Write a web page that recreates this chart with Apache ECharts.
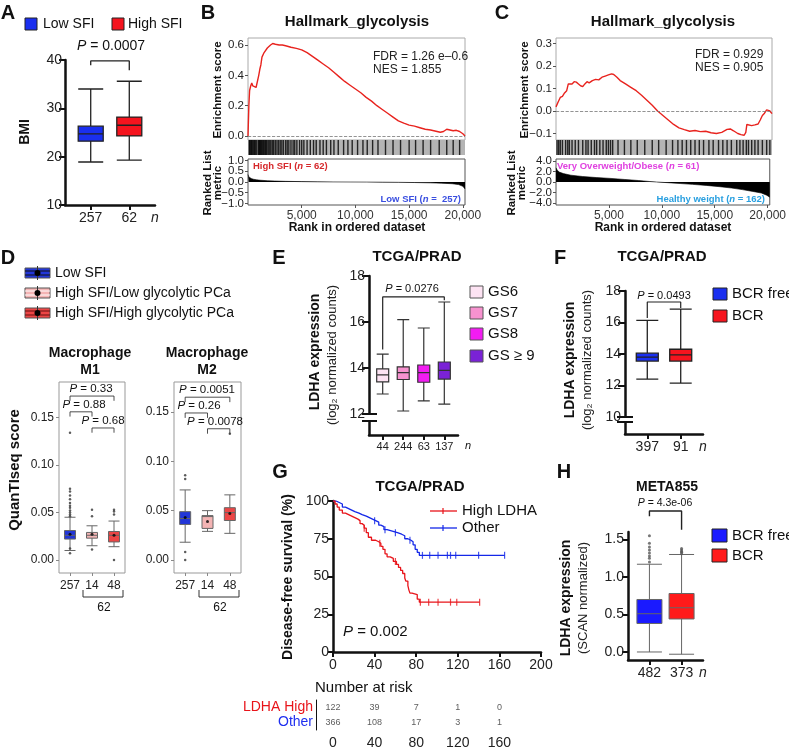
<!DOCTYPE html>
<html>
<head>
<meta charset="utf-8">
<title>Figure</title>
<script src="https://cdn.jsdelivr.net/npm/echarts@6.0.0/dist/echarts.min.js"></script>
<style>
  html, body { margin: 0; padding: 0; background: #fff; }
  #fig { width: 789px; height: 755px; }
</style>
</head>
<body>
<div id="fig"></div>
<script>
const FONT = '"Liberation Sans", Arial, Helvetica, sans-serif';

// ---------- A: BMI ----------
const aGroups = ['257', '62'];
const aBoxes = [              // min, Q1, median, Q3, max
  [18.9, 23.2, 24.7, 26.3, 34.0],
  [19.3, 24.3, 26.5, 28.2, 35.6]
];
const aTicks = [10, 20, 30, 40];
const aBracket = [38.9, 39.8, 37.9]; // left end, bar, right end

// ---------- B: GSEA high vs low SFI ----------
const bEnrichment = [
  [0, 0], [80, 0.2], [150, 0.3], [250, 0.33], [350, 0.35], [450, 0.33], [600, 0.34], [750, 0.32],
  [900, 0.33], [1000, 0.4], [1100, 0.44], [1200, 0.47], [1300, 0.52], [1400, 0.53], [1500, 0.55],
  [1650, 0.56], [1800, 0.58], [1950, 0.59], [2100, 0.6], [2200, 0.605], [2300, 0.61], [2400, 0.615],
  [2550, 0.605], [2700, 0.61], [2900, 0.6], [3200, 0.6], [3500, 0.595], [4000, 0.585], [4500, 0.578],
  [5000, 0.568], [5500, 0.55], [6000, 0.525], [6500, 0.5], [7000, 0.475], [7500, 0.45], [8000, 0.42],
  [8500, 0.39], [9000, 0.36], [9500, 0.335], [10000, 0.31], [10500, 0.285], [11000, 0.255],
  [11500, 0.23], [12000, 0.2], [12500, 0.175], [13000, 0.15], [13500, 0.125], [14000, 0.1],
  [14500, 0.085], [15000, 0.072], [15500, 0.065], [16000, 0.055], [16500, 0.045], [17000, 0.04],
  [17300, 0.035], [17600, 0.03], [17900, 0.025], [18200, 0.03], [18500, 0.045], [18800, 0.04],
  [19100, 0.035], [19400, 0.038], [19700, 0.03], [20000, 0.015], [20200, 0]
];
const bRanked = [
  [0, 0.35], [60, 0.25], [150, 0.2], [300, 0.16], [500, 0.13], [800, 0.1], [1200, 0.08], [1800, 0.06],
  [2500, 0.045], [3500, 0.03], [5000, 0.018], [6500, 0.008], [8000, 0.003], [9500, 0], [11000, -0.003],
  [12500, -0.008], [14000, -0.015], [15500, -0.025], [17000, -0.04], [18000, -0.055], [19000, -0.08],
  [19600, -0.12], [20000, -0.2], [20200, -0.32]
];
const bHits = [
  120, 180, 260, 330, 400, 520, 600, 680, 800, 950, 1020, 1080, 1150, 1230, 1300, 1380, 1460, 1560,
  1650, 1720, 1850, 1950, 2050, 2150, 2300, 2400, 2550, 2700, 2850, 3000, 3150, 3300, 3500, 3650,
  3800, 4000, 4200, 4350, 4550, 4800, 5000, 5200, 5500, 5800, 6100, 6350, 6700, 7000, 7300, 7700,
  8000, 8400, 8900, 9300, 9700, 10200, 10700, 11100, 11600, 12100, 12800, 13500, 14200, 15000,
  15600, 16300, 17000, 17800, 18500, 19100, 19700
];
const bEsTicks = [0, 0.2, 0.4, 0.6];
const bRankTicks = [-1, 0, 1];          // labelled on the main axis
const bRankHalfTicks = [-0.5, 0.5];     // labelled on a companion axis

// ---------- C: GSEA obese vs healthy weight ----------
const cEnrichment = [
  [0, 0.018], [200, 0.04], [400, 0.06], [600, 0.065], [800, 0.08], [1000, 0.09], [1150, 0.12],
  [1300, 0.125], [1500, 0.12], [1700, 0.13], [1900, 0.128], [2100, 0.12], [2300, 0.112], [2500, 0.108],
  [2700, 0.12], [2900, 0.13], [3100, 0.125], [3400, 0.135], [3700, 0.14], [4000, 0.138], [4300, 0.15],
  [4600, 0.155], [4900, 0.16], [5200, 0.165], [5400, 0.162], [5700, 0.15], [6000, 0.135], [6500, 0.12],
  [7000, 0.105], [7500, 0.09], [8000, 0.07], [8500, 0.048], [9000, 0.025], [9500, 0], [10000, -0.02],
  [10500, -0.04], [11000, -0.06], [11500, -0.075], [12000, -0.083], [12500, -0.09], [13000, -0.087],
  [13500, -0.092], [14000, -0.09], [14500, -0.097], [15000, -0.1], [15500, -0.095], [16000, -0.082],
  [16300, -0.08], [16600, -0.088], [17000, -0.1], [17300, -0.105], [17600, -0.108], [17750, -0.095],
  [17850, -0.06], [18000, -0.055], [18300, -0.065], [18600, -0.062], [18900, -0.058], [19100, -0.04],
  [19300, -0.02], [19500, -0.01], [19700, 0.005], [19850, 0.01], [20000, 0], [20200, -0.012]
];
const cRanked = [
  [0, 2.7], [100, 2.3], [300, 1.9], [700, 1.6], [1400, 1.3], [2500, 1.05], [3800, 0.85], [5200, 0.68],
  [6500, 0.48], [7800, 0.28], [8800, 0.1], [9500, 0], [10500, -0.12], [11800, -0.3], [12900, -0.45],
  [14200, -0.65], [15500, -0.9], [16600, -1.15], [17600, -1.45], [18600, -1.8], [19400, -2.1],
  [19900, -2.5], [20200, -2.9]
];
const cHits = [
  100, 250, 400, 600, 900, 1100, 1250, 1500, 1800, 2100, 2500, 2800, 3000, 3300, 3600, 3800, 4100,
  4400, 4700, 4900, 5100, 5300, 5800, 6400, 7000, 7600, 8300, 9000, 9600, 10300, 10900, 11400, 11800,
  12200, 12600, 13000, 13400, 13800, 14300, 14700, 15200, 15600, 16000, 16400, 16900, 17200, 17500,
  17800, 18000, 18300, 18600, 18900, 19300, 19700, 20000
];
const cEsTicks = [-0.1, 0, 0.1, 0.2, 0.3];
const cRankTicks = [-4, 0, 4];
const cRankHalfTicks = [-2, 2];
const rankXTicks = [5000, 10000, 15000, 20000];

// ---------- D: QuanTIseq macrophages ----------
const dGroups = ['257', '14', '48'];
const dTicks = [0, 0.05, 0.1, 0.15];
const m1Boxes = [
  [0.010, 0.022, 0.026, 0.031, 0.045],
  [0.015, 0.023, 0.026, 0.029, 0.036],
  [0.014, 0.019, 0.026, 0.030, 0.041]
];
const m1Means = [0.027, 0.027, 0.026];
const m1Outliers = [
  [0, 0.134], [0, 0.075], [0, 0.072], [0, 0.068], [0, 0.064], [0, 0.060], [0, 0.057], [0, 0.055],
  [0, 0.052], [0, 0.050], [0, 0.048], [0, 0.046], [0, 0.012], [0, 0.007],
  [1, 0.053], [1, 0.046], [1, 0.011], [2, 0.053], [2, 0.051], [2, 0.048], [2, 0.0]
];
const m1Brackets = [[0, 2, 0.1726], [0, 1, 0.156], [1, 2, 0.139]];
const m2Boxes = [
  [0.018, 0.036, 0.042, 0.049, 0.071],
  [0.029, 0.032, 0.044, 0.045, 0.050],
  [0.027, 0.040, 0.048, 0.053, 0.066]
];
const m2Means = [0.043, 0.039, 0.047];
const m2Outliers = [[0, 0.086], [0, 0.082], [0, 0.008], [0, 0.0], [2, 0.128]];
const m2Brackets = [[0, 2, 0.165], [0, 1, 0.149], [1, 2, 0.133]];

// ---------- E: LDHA by Gleason score ----------
const eGroups = ['44', '244', '63', '137'];
const eBoxes = [
  [12.87, 13.4, 13.7, 13.96, 14.6],
  [12.13, 13.5, 13.8, 14.05, 16.1],
  [12.57, 13.38, 13.8, 14.13, 15.74],
  [12.43, 13.52, 13.9, 14.26, 16.87]
];
const eTicks = [12, 14, 16, 18];
const eBracket = [14.8, 17.09, 16.95];

// ---------- F: LDHA by BCR (TCGA) ----------
const fGroups = ['397', '91'];
const fBoxes = [
  [12.4, 13.55, 13.8, 14.05, 16.13],
  [12.15, 13.55, 13.95, 14.3, 16.85]
];
const fTicks = [10, 12, 14, 16, 18];
const fBracket = [16.29, 17.3, 16.92];

// ---------- G: Kaplan-Meier ----------
const kmHigh = [
  [0, 100], [2, 98], [4, 96], [6, 94], [9, 92], [12, 91], [15, 90], [18, 89], [21, 88], [24, 87],
  [26, 85], [28, 84], [30, 82], [32, 79], [34, 76], [37, 74], [41, 73], [44, 72], [46, 70], [48, 68],
  [50, 65], [52, 63], [55, 62], [58, 60], [61, 58], [63, 56], [65, 54], [67, 52], [69, 49], [70, 47],
  [72, 44], [73, 41], [74, 39], [76, 38], [81, 35], [83, 33], [141, 33]
];
const kmOther = [
  [0, 100], [3, 99], [6, 98], [9, 96], [12, 95], [15, 94], [18, 93], [21, 92], [25, 91], [28, 90],
  [32, 89], [35, 88], [38, 87], [41, 86], [44, 84], [46, 83], [49, 81], [52, 80], [57, 79], [62, 78],
  [66, 77], [69, 75], [72, 74], [75, 73], [77, 71], [79, 68], [81, 66], [83, 64], [165, 64]
];
const censorHigh = [[30, 82], [45, 72], [60, 60], [84, 33], [92, 33], [101, 33], [113, 33], [119, 33], [141, 33]];
const censorOther = [[40, 87], [50, 81], [60, 79], [74, 74], [86, 64], [93, 64], [101, 64], [110, 64], [113, 64], [118, 64], [140, 64], [165, 64]];
const riskTimes = [0, 40, 80, 120, 160];
const riskHigh = [122, 39, 7, 1, 0];
const riskOther = [366, 108, 17, 3, 1];
const riskRows = ['LDHA High', 'Other'];

// ---------- H: META855 ----------
const hGroups = ['482', '373'];
const hBoxes = [
  [0.0, 0.38, 0.51, 0.70, 1.17],
  [-0.03, 0.44, 0.59, 0.78, 1.30]
];
const hOutliers = [
  [0, 1.55], [0, 1.45], [0, 1.40], [0, 1.36], [0, 1.32], [0, 1.28], [0, 1.25], [0, 1.20],
  [1, 1.38], [1, 1.36], [1, 1.34], [1, 1.33], [1, 1.31]
];
const hTicks = [0, 0.5, 1, 1.5];
const hBracket = [1.81, 1.88, 1.63];

// ---------- colours ----------
const BLUE = '#1a2ff0', RED = '#f5141e';
const GS = ['#fde3f3', '#f792cf', '#f21cf2', '#7a22d6'];
const D_COL = ['#2236d8', '#f4b4b4', '#ec4545'];

// ---------- helpers ----------
function slotAxis(grid, n, slots, names, nSlot, fs) {
  const cats = [], map = {};
  for (let i = 0; i < n; i++) cats.push('s' + i);
  slots.forEach((s, k) => { map['s' + s] = names[k]; });
  if (nSlot !== undefined) map['s' + nSlot] = '{i|n}';
  return {
    gridIndex: grid, type: 'category', data: cats, boundaryGap: false,
    axisLine: { onZero: false, lineStyle: { color: '#111', width: 2.5 } },
    axisTick: { length: 5, interval: (i) => slots.indexOf(i) >= 0, lineStyle: { color: '#111', width: 2 } },
    axisLabel: {
      interval: 0, hideOverlap: false, showMinLabel: true, showMaxLabel: true,
      fontSize: fs, color: '#222', margin: 6, fontFamily: FONT,
      formatter: v => map[v] || '',
      rich: { i: { fontStyle: 'italic', fontSize: fs, color: '#222', fontFamily: FONT } }
    },
    splitLine: { show: false }
  };
}
function yVal(grid, min, max, ticks, o) {
  o = o || {};
  const lab = {
    customValues: ticks, fontSize: o.fs || 14, color: '#222', margin: o.m || 4, fontFamily: FONT,
    hideOverlap: false, showMinLabel: true, showMaxLabel: true
  };
  if (o.fmt) lab.formatter = o.fmt;
  return {
    gridIndex: grid, type: 'value', min, max, position: 'left',
    axisLine: { show: o.line !== false, onZero: false, lineStyle: { color: '#111', width: 2.5 } },
    axisTick: { show: true, length: o.tl || 6, customValues: ticks, lineStyle: { color: o.tc || '#111', width: o.tw || 2 } },
    axisLabel: lab,
    splitLine: { show: false }
  };
}
function hidden(grid, min, max) {
  return { gridIndex: grid, type: 'value', min, max, show: false, axisLine: { onZero: false }, splitLine: { show: false } };
}
function boxSeries(gi, boxes, colors, slots, n, width, border, bw) {
  const data = [];
  const count = n || boxes.length;
  for (let i = 0; i < count; i++) data.push(['-', '-', '-', '-', '-']);
  boxes.forEach((b, k) => {
    const at = slots ? slots[k] : k;
    data[at] = { value: b, itemStyle: { color: colors[k], borderColor: border, borderWidth: bw } };
  });
  return { type: 'boxplot', xAxisIndex: gi, yAxisIndex: gi, boxWidth: [width, width], data, silent: true, z: 3 };
}
function bracket(gi, xl, xr, b, w) {
  return {
    type: 'line', xAxisIndex: gi, yAxisIndex: gi, symbol: 'none', clip: false, silent: true, z: 6,
    data: [[xl, b[0]], [xl, b[1]], [xr, b[1]], [xr, b[2]]],
    lineStyle: { color: '#222', width: w || 1.2 }
  };
}
function dots(gi, pts, size, color) {
  return { type: 'scatter', xAxisIndex: gi, yAxisIndex: gi, data: pts, symbolSize: size, itemStyle: { color }, silent: true, z: 5 };
}
const minus = d => v => (v < 0 ? '\u2212' : '') + Math.abs(v).toFixed(d);

function T(x, y, text, size, o) {
  o = o || {};
  const st = {
    text, fontSize: size, fontFamily: FONT, fontWeight: o.bold ? 'bold' : 'normal',
    fill: o.color || '#111', align: o.align || 'center', verticalAlign: 'middle'
  };
  if (o.rich) st.rich = o.rich;
  return { type: 'text', x, y, rotation: o.rot || 0, silent: true, z: 100, style: st };
}
function italicP(size, color) {
  return { i: { fontStyle: 'italic', fontSize: size, fontFamily: FONT, fill: color || '#111' } };
}
function R(x, y, w, h, fill, stroke) {
  return { type: 'rect', shape: { x, y, width: w, height: h }, silent: true, z: 100, style: { fill, stroke: stroke || '#333', lineWidth: 1 } };
}
function L(x1, y1, x2, y2, color, w) {
  return { type: 'line', shape: { x1, y1, x2, y2 }, silent: true, z: 100, style: { stroke: color || '#111', lineWidth: w || 1 } };
}
function PL(points, color, w) {
  return { type: 'polyline', shape: { points }, silent: true, z: 100, style: { stroke: color || '#333', lineWidth: w || 1, fill: null } };
}
function boxIcon(y, fill, stripe) {
  return [
    R(25, y - 5, 25, 10, fill, '#555'),
    L(25, y - 2, 50, y - 2, stripe), L(25, y + 2, 50, y + 2, stripe),
    L(37.5, y - 7, 37.5, y + 7, '#333'),
    { type: 'circle', shape: { cx: 37.5, cy: y, r: 3 }, silent: true, z: 101, style: { fill: '#000' } }
  ];
}

// ---------- layout ----------
const grids = [
  { left: 65, top: 60, width: 90, height: 145 },                                                      // 0 A
  { left: 248, top: 38, width: 217, height: 102, show: true, borderColor: '#aaa', borderWidth: 1 },    // 1 B ES
  { left: 248, top: 140, width: 217, height: 15, show: true, backgroundColor: '#b4b4b4', borderWidth: 0 }, // 2 B hits
  { left: 248, top: 159, width: 217, height: 46, show: true, borderColor: '#555', borderWidth: 1 },    // 3 B ranked
  { left: 556, top: 38, width: 216, height: 102, show: true, borderColor: '#aaa', borderWidth: 1 },    // 4 C ES
  { left: 556, top: 140, width: 216, height: 15, show: true, backgroundColor: '#b4b4b4', borderWidth: 0 }, // 5 C hits
  { left: 556, top: 159, width: 216, height: 46, show: true, borderColor: '#555', borderWidth: 1 },    // 6 C ranked
  { left: 59, top: 382, width: 66, height: 191, show: true, borderColor: '#999', borderWidth: 1 },     // 7 D M1
  { left: 174, top: 382, width: 67, height: 191, show: true, borderColor: '#999', borderWidth: 1 },    // 8 D M2
  { left: 369, top: 276, width: 89, height: 159 },                                                    // 9 E
  { left: 625, top: 291, width: 78, height: 143 },                                                    // 10 F
  { left: 333, top: 501, width: 208, height: 151 },                                                   // 11 G
  { left: 316, top: 700, width: 225, height: 30 },                                                    // 12 G risk
  { left: 628, top: 532, width: 75, height: 128 }                                                     // 13 H
];

function frameX(grid) {
  return {
    gridIndex: grid, type: 'category', data: dGroups, boundaryGap: true,
    axisLine: { show: false, onZero: false },
    axisTick: { show: true, alignWithLabel: true, interval: 0, length: 3, lineStyle: { color: '#888' } },
    axisLabel: { interval: 0, hideOverlap: false, fontSize: 12, color: '#222', margin: 7, fontFamily: FONT },
    splitLine: { show: false }
  };
}
function frameY(grid, min, max) {
  return yVal(grid, min, max, dTicks, { line: false, fs: 12, tl: 3, tc: '#888', tw: 1, m: 5, fmt: v => v.toFixed(2) });
}
function rankX(grid) {
  return {
    gridIndex: grid, type: 'value', min: 0, max: 20200,
    axisLine: { show: false, onZero: false },
    axisTick: { show: true, length: 3, customValues: rankXTicks, lineStyle: { color: '#555' } },
    axisLabel: {
      customValues: rankXTicks, fontSize: 12, color: '#333', margin: 5, fontFamily: FONT,
      hideOverlap: false, showMinLabel: true, showMaxLabel: true,
      formatter: v => v.toLocaleString('en-US')
    },
    splitLine: { show: false }
  };
}
const smallY = (grid, min, max, ticks) =>
  yVal(grid, min, max, ticks, { line: false, fs: 11.5, tl: 3, tc: '#555', tw: 1, fmt: minus(1) });

const xAxes = [
  slotAxis(0, 8, [2, 5], aGroups, 7, 14),
  hidden(1, 0, 20200), hidden(2, 0, 20200), rankX(3),
  hidden(4, 0, 20200), hidden(5, 0, 20200), rankX(6),
  frameX(7), frameX(8),
  slotAxis(9, 27, [4, 10, 16, 22], eGroups, undefined, 11),
  slotAxis(10, 8, [2, 5], fGroups, 7, 14),
  {
    gridIndex: 11, type: 'value', min: 0, max: 200, interval: 40,
    axisLine: { onZero: false, lineStyle: { color: '#111', width: 2.5 } },
    axisTick: { length: 5, lineStyle: { color: '#111', width: 2 } },
    axisLabel: { fontSize: 14, color: '#222', margin: 6, fontFamily: FONT, showMinLabel: true, showMaxLabel: true },
    splitLine: { show: false }
  },
  {
    gridIndex: 12, type: 'value', min: -16.3, max: 200,
    axisLine: { onZero: false, lineStyle: { color: '#111', width: 1 } },
    axisTick: { length: 5, customValues: riskTimes, lineStyle: { color: '#111', width: 1 } },
    axisLabel: { customValues: riskTimes, fontSize: 14, color: '#222', margin: 6, fontFamily: FONT, hideOverlap: false },
    splitLine: { show: false }
  },
  slotAxis(13, 8, [2, 5], hGroups, 7, 14)
];
const yAxes = [
  yVal(0, 10, 40, aTicks, { m: 3 }),
  yVal(1, -0.026, 0.646, bEsTicks, { line: false, fs: 11.5, tl: 3, tc: '#555', tw: 1, fmt: v => v.toFixed(1) }),
  hidden(2, 0, 1),
  smallY(3, -1.07, 1.07, bRankTicks),
  yVal(4, -0.129, 0.324, cEsTicks, { line: false, fs: 11.5, tl: 3, tc: '#555', tw: 1, fmt: minus(1) }),
  hidden(5, 0, 1),
  smallY(6, -4.38, 4.38, cRankTicks),
  frameY(7, -0.0137, 0.1874),
  frameY(8, -0.0132, 0.1804),
  yVal(9, 11.087, 18, eTicks, { tl: 7 }),
  yVal(10, 8.92, 18, fTicks, { tl: 7 }),
  yVal(11, 0, 100, [0, 25, 50, 75, 100], { tl: 5 }),
  {
    gridIndex: 12, type: 'category', data: riskRows, inverse: true,
    axisLine: { onZero: false, lineStyle: { color: '#111', width: 1 } },
    axisTick: { alignWithLabel: true, interval: 0, length: 5, lineStyle: { color: '#111' } },
    axisLabel: {
      interval: 0, hideOverlap: false, fontSize: 14, margin: 3, fontFamily: FONT,
      formatter: v => v === 'Other' ? '{b|Other}' : '{r|LDHA High}',
      rich: { r: { color: '#e8141a', fontSize: 14, fontFamily: FONT }, b: { color: '#1f2ff0', fontSize: 14, fontFamily: FONT } }
    },
    splitLine: { show: false }
  },
  yVal(13, -0.107, 1.6, hTicks, { tl: 6, fmt: v => v.toFixed(1) }),
  // companion axes carrying the in-between ranked-metric labels
  smallY(3, -1.07, 1.07, bRankHalfTicks),
  smallY(6, -4.38, 4.38, cRankHalfTicks)
];

// ---------- series ----------
const esLine = (gi, pts) => ({
  type: 'line', xAxisIndex: gi, yAxisIndex: gi, data: pts, symbol: 'none', silent: true,
  lineStyle: { color: '#e8231e', width: 1.4 },
  markLine: { silent: true, symbol: 'none', label: { show: false }, lineStyle: { type: 'dashed', color: '#777', width: 0.8 }, data: [{ yAxis: 0 }] }
});
const hitLines = (gi, hits) => ({
  type: 'scatter', xAxisIndex: gi, yAxisIndex: gi, data: hits.map(h => [h, 0.5]),
  symbol: 'rect', symbolSize: [1.4, 15], itemStyle: { color: '#000' }, silent: true
});
const rankArea = (gi, pts) => ({
  type: 'line', xAxisIndex: gi, yAxisIndex: gi, data: pts, symbol: 'none', silent: true,
  lineStyle: { color: '#000', width: 0.6 }, areaStyle: { color: '#000', opacity: 1 }
});
const km = (pts, color) => ({
  type: 'line', xAxisIndex: 11, yAxisIndex: 11, data: pts, step: 'end', symbol: 'none', silent: true,
  lineStyle: { color, width: 1.3 }
});
const censor = (pts, color) => ({
  type: 'scatter', xAxisIndex: 11, yAxisIndex: 11, data: pts, symbol: 'rect', symbolSize: [1.2, 7],
  itemStyle: { color }, silent: true
});
const riskData = riskTimes.map((t, i) => [t, 0, riskHigh[i]]).concat(riskTimes.map((t, i) => [t, 1, riskOther[i]]));

const series = [
  boxSeries(0, aBoxes, [BLUE, RED], [2, 5], 8, 25, '#222', 1.3),
  bracket(0, 2, 5, aBracket, 1.3),

  esLine(1, bEnrichment), hitLines(2, bHits), rankArea(3, bRanked),
  esLine(4, cEnrichment), hitLines(5, cHits), rankArea(6, cRanked),

  boxSeries(7, m1Boxes, D_COL, null, 3, 11, '#666', 1),
  dots(7, m1Outliers, 2.5, '#333'),
  dots(7, m1Means.map((v, i) => [i, v]), 3, '#000'),
  boxSeries(8, m2Boxes, D_COL, null, 3, 11, '#666', 1),
  dots(8, m2Outliers, 2.5, '#333'),
  dots(8, m2Means.map((v, i) => [i, v]), 3, '#000'),

  boxSeries(9, eBoxes, GS, [4, 10, 16, 22], 27, 12, '#333', 1.2),
  bracket(9, 4, 22, eBracket, 1.2),

  boxSeries(10, fBoxes, [BLUE, RED], [2, 5], 8, 22, '#222', 1.3),
  bracket(10, 2, 5, fBracket, 1.2),

  km(kmOther, '#1428e8'), km(kmHigh, '#e8141a'),
  censor(censorOther, '#1428e8'), censor(censorHigh, '#e8141a'),
  {
    type: 'scatter', xAxisIndex: 12, yAxisIndex: 12, data: riskData, symbolSize: 1,
    itemStyle: { color: 'rgba(0,0,0,0)' }, silent: true,
    label: { show: true, position: 'inside', formatter: p => String(p.value[2]), fontSize: 9, color: '#333', fontFamily: FONT }
  },

  boxSeries(13, hBoxes, ['#1a1aff', '#ff1a1a'], [2, 5], 8, 25, '#666', 1),
  dots(13, hOutliers.map(p => [p[0] === 0 ? 2 : 5, p[1]]), 3, '#555'),
  bracket(13, 2, 5, hBracket, 1.4)
];

// D brackets
m1Brackets.forEach(b => series.push(bracket(7, b[0], b[1], [b[2] - 0.005, b[2], b[2] - 0.005], 0.8)));
m2Brackets.forEach(b => series.push(bracket(8, b[0], b[1], [b[2] - 0.005, b[2], b[2] - 0.005], 0.8)));

// ---------- text and legends ----------
const rot = Math.PI / 2;
const el = [
  // panel letters
  T(8, 13, 'A', 20, { bold: true }), T(208, 13, 'B', 20, { bold: true }), T(502, 13, 'C', 20, { bold: true }),
  T(8, 258, 'D', 20, { bold: true }), T(279, 258, 'E', 20, { bold: true }), T(560, 258, 'F', 20, { bold: true }),
  T(280, 472, 'G', 20, { bold: true }), T(564, 472, 'H', 20, { bold: true }),

  // A
  R(25, 18, 12, 12, BLUE, '#222'), T(43, 24, 'Low SFI', 14, { align: 'left' }),
  R(112, 18, 12, 12, RED, '#222'), T(128, 24, 'High SFI', 14, { align: 'left' }),
  T(111, 46, '{i|P} = 0.0007', 14, { rich: italicP(14) }),
  T(25, 132, 'BMI', 14, { bold: true, rot }),

  // B
  T(357, 22, 'Hallmark_glycolysis', 15, { bold: true }),
  T(373, 57, 'FDR = 1.26 e\u20130.6', 12, { align: 'left', color: '#222' }),
  T(373, 70, 'NES = 1.855', 12, { align: 'left', color: '#222' }),
  T(218, 90, 'Enrichment score', 11.5, { bold: true, rot }),
  T(208, 183, 'Ranked List', 11.5, { bold: true, rot }),
  T(218, 183, 'metric', 11.5, { bold: true, rot }),
  T(253, 166, 'High SFI ({n|n} = 62)', 9.5, { bold: true, align: 'left', color: '#d6282b',
    rich: { n: { fontStyle: 'italic', fontWeight: 'bold', fontSize: 9.5, fontFamily: FONT, fill: '#d6282b' } } }),
  T(461, 199, 'Low SFI ({n|n} =  257)', 9.5, { bold: true, align: 'right', color: '#3a4fe0',
    rich: { n: { fontStyle: 'italic', fontWeight: 'bold', fontSize: 9.5, fontFamily: FONT, fill: '#3a4fe0' } } }),
  T(357, 228, 'Rank in ordered dataset', 12, { bold: true }),

  // C
  T(663, 22, 'Hallmark_glycolysis', 15, { bold: true }),
  T(695, 55, 'FDR = 0.929', 12, { align: 'left', color: '#222' }),
  T(695, 68, 'NES = 0.905', 12, { align: 'left', color: '#222' }),
  T(525, 90, 'Enrichment score', 11.5, { bold: true, rot }),
  T(512, 183, 'Ranked List', 11.5, { bold: true, rot }),
  T(522, 183, 'metric', 11.5, { bold: true, rot }),
  T(557, 166, 'Very Overweight/Obese ({n|n} = 61)', 9.5, { bold: true, align: 'left', color: '#e040e0',
    rich: { n: { fontStyle: 'italic', fontWeight: 'bold', fontSize: 9.5, fontFamily: FONT, fill: '#e040e0' } } }),
  T(765, 199, 'Healthy weight ({n|n} = 162)', 9.5, { bold: true, align: 'right', color: '#2aa0e0',
    rich: { n: { fontStyle: 'italic', fontWeight: 'bold', fontSize: 9.5, fontFamily: FONT, fill: '#2aa0e0' } } }),
  T(663, 228, 'Rank in ordered dataset', 12, { bold: true }),

  // D
  ...boxIcon(273, D_COL[0], '#111'), T(55, 273, 'Low SFI', 14, { align: 'left' }),
  ...boxIcon(293, D_COL[1], '#fff'), T(55, 293, 'High SFI/Low glycolytic PCa', 14, { align: 'left' }),
  ...boxIcon(313, D_COL[2], '#611'), T(55, 313, 'High SFI/High glycolytic PCa', 14, { align: 'left' }),
  T(90, 353, 'Macrophage', 14, { bold: true }), T(90, 370, 'M1', 14, { bold: true }),
  T(207, 353, 'Macrophage', 14, { bold: true }), T(207, 370, 'M2', 14, { bold: true }),
  T(15, 470, 'QuanTIseq score', 15, { bold: true, rot }),
  T(91, 389, '{i|P} = 0.33', 11.5, { rich: italicP(11.5) }),
  T(84, 405, '{i|P} = 0.88', 11.5, { rich: italicP(11.5) }),
  T(103, 421, '{i|P} = 0.68', 11.5, { rich: italicP(11.5) }),
  T(207, 390, '{i|P} = 0.0051', 11.5, { rich: italicP(11.5) }),
  T(199, 406, '{i|P} = 0.26', 11.5, { rich: italicP(11.5) }),
  T(215, 422, '{i|P} = 0.0078', 11.5, { rich: italicP(11.5) }),
  PL([[83, 590], [83, 597], [123, 597], [123, 590]], '#333', 1), T(104, 608, '62', 12),
  PL([[199, 590], [199, 597], [239, 597], [239, 590]], '#333', 1), T(220, 608, '62', 12),

  // E
  T(417, 257, 'TCGA/PRAD', 15, { bold: true }),
  T(412, 289, '{i|P} = 0.0276', 11, { rich: italicP(11) }),
  T(315, 352, 'LDHA expression', 14, { bold: true, rot }),
  T(332, 355, '(log\u2082 normalized counts)', 13, { rot, color: '#222' }),
  T(468, 446, '{i|n}', 11, { rich: italicP(11) }),
  R(470, 286, 13, 12, GS[0], '#555'), T(488, 292, 'GS6', 15, { align: 'left' }),
  R(470, 307, 13, 12, GS[1], '#555'), T(488, 313, 'GS7', 15, { align: 'left' }),
  R(470, 328, 13, 12, GS[2], '#555'), T(488, 334, 'GS8', 15, { align: 'left' }),
  R(470, 350, 13, 12, GS[3], '#555'), T(488, 356, 'GS \u2265 9', 15, { align: 'left' }),
  { type: 'rect', shape: { x: 366, y: 415, width: 6, height: 6 }, silent: true, z: 99, style: { fill: '#fff' } },
  L(362, 414, 377, 414, '#111', 2), L(362, 421, 377, 421, '#111', 2),

  // F
  T(662, 257, 'TCGA/PRAD', 15, { bold: true }),
  T(664, 296, '{i|P} = 0.0493', 11, { rich: italicP(11) }),
  T(570, 360, 'LDHA expression', 14, { bold: true, rot }),
  T(587, 360, '(log\u2082 normalized counts)', 13, { rot, color: '#222' }),
  R(713, 288, 14, 12, BLUE, '#222'), T(732, 294, 'BCR free', 15, { align: 'left' }),
  R(713, 310, 14, 12, RED, '#222'), T(732, 316, 'BCR', 15, { align: 'left' }),
  { type: 'rect', shape: { x: 622, y: 418, width: 6, height: 4 }, silent: true, z: 99, style: { fill: '#fff' } },
  L(617, 417, 633, 417, '#111', 2), L(617, 422, 633, 422, '#111', 2),

  // G
  T(420, 487, 'TCGA/PRAD', 15, { bold: true }),
  T(288, 577, 'Disease-free survival (%)', 14, { bold: true, rot }),
  L(430, 511, 457, 511, '#e8141a', 1.3), L(443, 508, 443, 514, '#e8141a', 1.2),
  T(462, 511, 'High LDHA', 15, { align: 'left' }),
  L(430, 528, 457, 528, '#1428e8', 1.3), L(443, 525, 443, 531, '#1428e8', 1.2),
  T(462, 528, 'Other', 15, { align: 'left' }),
  T(343, 632, '{i|P} = 0.002', 15, { align: 'left', rich: italicP(15) }),
  T(315, 688, 'Number at risk', 15, { align: 'left' }),

  // H
  T(667, 487, 'META855', 14, { bold: true }),
  T(665, 503, '{i|P} = 4.3e-06', 10.5, { rich: italicP(10.5) }),
  T(566, 598, 'LDHA expression', 14, { bold: true, rot }),
  T(583, 598, '(SCAN normalized)', 13, { rot, color: '#222' }),
  R(712, 529, 15, 13, '#1a1aff', '#222'), T(732, 536, 'BCR free', 15, { align: 'left' }),
  R(712, 549, 15, 13, '#ff1a1a', '#222'), T(732, 556, 'BCR', 15, { align: 'left' })
];

const chart = echarts.init(document.getElementById('fig'), null, { renderer: 'canvas' });
chart.setOption({
  animation: false,
  backgroundColor: '#fff',
  textStyle: { fontFamily: FONT },
  grid: grids,
  xAxis: xAxes,
  yAxis: yAxes,
  series: series,
  graphic: { elements: el }
});
</script>
</body>
</html>
